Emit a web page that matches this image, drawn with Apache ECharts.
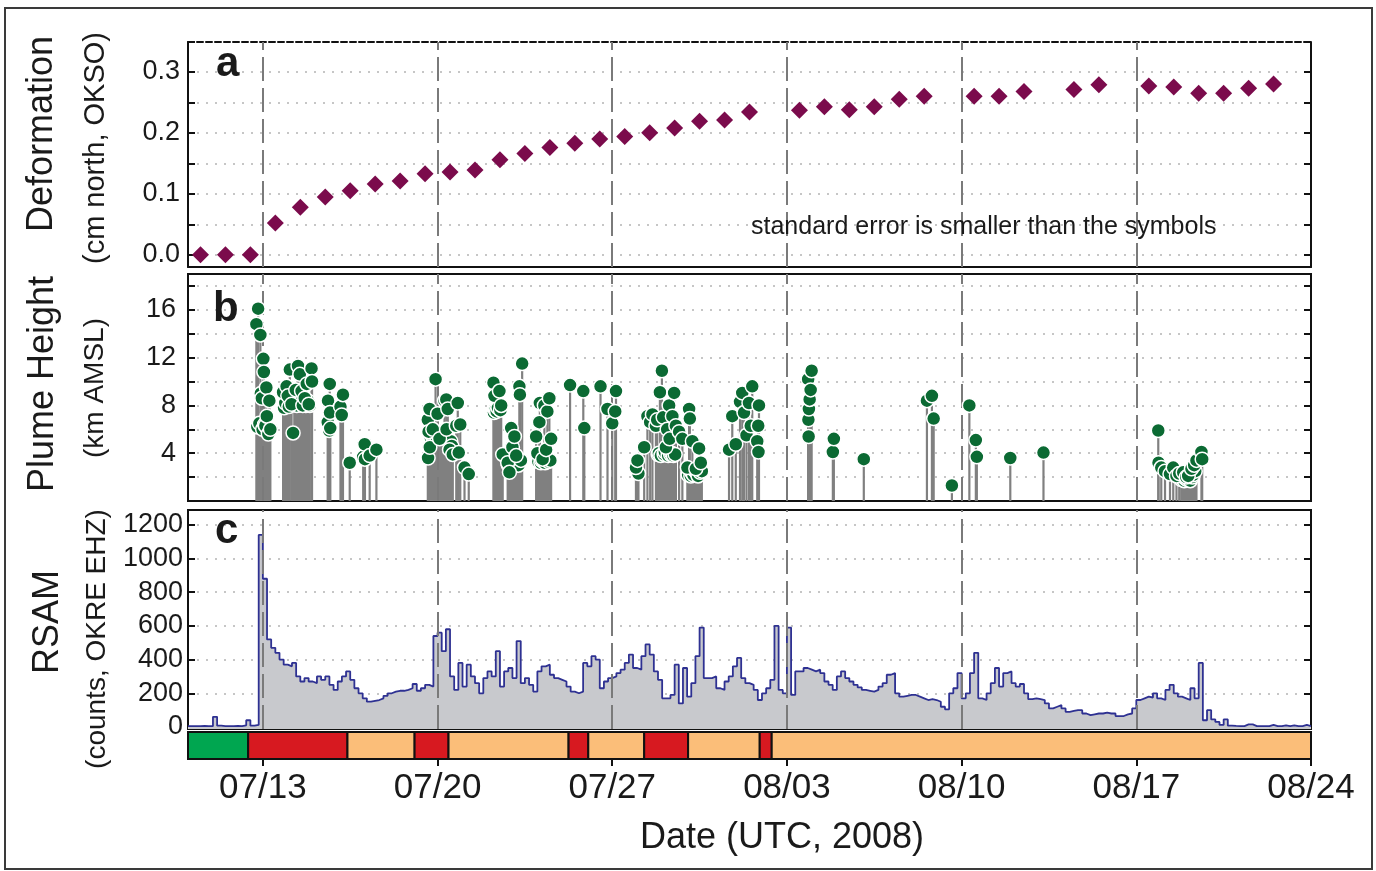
<!DOCTYPE html>
<html><head><meta charset="utf-8">
<script src="https://cdn.jsdelivr.net/npm/echarts@6.0.0/dist/echarts.min.js"></script>
<style>html,body{margin:0;padding:0;background:#fff}#c{width:1376px;height:871px}</style>
</head><body><div id="c"></div>
<script>
// ---------------- DATA ----------------
// Reference time: 2008-07-10 00:00 UTC; x positions are days after it.
const weekTickLabels = ['07/13','07/20','07/27','08/03','08/10','08/17','08/24'];

// (a) Deformation, cm north at OKSO (daily solutions, 12:00 UTC)
const deformDates = ['07/10','07/11','07/12','07/13','07/14','07/15','07/16','07/17','07/18','07/19',
  '07/20','07/21','07/22','07/23','07/24','07/25','07/26','07/27','07/28','07/29','07/30','07/31',
  '08/01','08/03','08/04','08/05','08/06','08/07','08/08','08/10','08/11','08/12','08/14','08/15',
  '08/17','08/18','08/19','08/20','08/21','08/22'];
const deformValues = [0,0,0,0.052,0.078,0.095,0.105,0.116,0.121,0.133,
  0.136,0.139,0.156,0.166,0.176,0.183,0.190,0.194,0.200,0.208,0.219,0.221,
  0.234,0.237,0.243,0.238,0.243,0.255,0.260,0.260,0.260,0.268,0.271,0.279,
  0.277,0.275,0.265,0.265,0.273,0.280];

// (b) Plume height, km AMSL (time in days after 07/10 00:00 UTC)
// lower, mostly hidden events inside the dense clusters
const plumeDayLow = [2.78,2.86,2.99,3.07,3.19,3.24,
  3.85,3.90,4.04,4.26,4.36,4.52,4.64,4.72,4.80,4.88,
  9.73,9.77,9.86,9.97,10.04,10.13,10.18,10.23,10.32,10.44,10.53,10.57,
  12.26,12.32,12.37,12.42,12.52,12.84,12.92,13.04,13.12,13.20,13.24,13.34,
  14.04,14.14,14.17,14.25,14.31,14.44,14.52,
  18.05,18.84,18.87,18.95,19.08,19.11,19.24,19.34,19.38,19.45,19.52,
  20.04,20.15,20.18,20.25,20.29,20.40,20.44,20.52,20.59,
  39.80,39.84,39.92,39.96,40.04,40.12,40.16,40.25,40.28,40.36];
const plumeKmLow = [6.2,6.5,6.0,6.4,6.0,5.8,
  7.8,8.2,7.9,8.3,8.0,8.3,8.2,8.0,8.4,8.0,
  5.3,5.5,5.4,5.3,5.6,5.4,5.3,5.5,5.3,5.2,5.0,4.6,
  7.4,7.6,7.5,7.8,7.6,3.0,3.1,3.3,3.0,3.2,3.0,3.4,
  3.3,3.2,3.4,3.3,3.2,3.3,3.4,
  2.3,3.9,4.0,3.8,3.9,4.1,3.8,3.9,4.0,3.8,3.9,
  2.2,2.1,2.4,2.2,2.6,2.3,2.1,2.4,2.5,
  1.8,1.9,1.7,1.9,1.8,1.9,1.7,2.0,2.2,2.5];
const plumeDay = [2.74,2.81,2.90,2.92,2.96,3.02,3.04,3.10,3.14,3.16,3.22,3.26,3.30,
  3.81,3.95,4.00,4.08,4.15,4.21,4.32,4.41,4.48,4.55,4.60,4.68,4.76,4.84,4.95,4.97,
  5.60,5.61,5.66,5.68,5.69,5.70,6.11,6.16,6.21,
  6.48,7.02,7.08,7.09,7.28,7.55,
  9.61,9.62,9.64,9.68,9.69,9.81,9.92,10.00,10.08,10.28,10.35,10.36,10.41,10.48,10.61,10.75,10.81,10.85,10.91,11.08,11.25,
  12.24,12.28,12.48,12.55,12.61,12.81,12.88,12.95,13.00,13.08,13.15,13.28,13.30,13.39,
  13.95,14.00,14.08,14.10,14.21,14.28,14.35,14.40,14.48,14.55,
  15.31,15.84,15.88,16.53,16.81,17.00,17.12,17.15,
  17.95,18.01,18.28,18.41,18.52,18.61,18.75,18.80,18.91,18.99,19.04,19.15,19.20,19.28,19.30,19.41,19.48,19.55,19.68,19.81,20.01,20.08,20.11,20.21,20.35,20.48,20.55,
  21.68,21.81,21.95,22.12,22.21,22.28,22.38,22.48,22.55,22.61,22.81,22.85,22.86,22.88,
  24.85,24.86,24.87,24.88,24.91,24.95,24.99,25.84,25.88,27.08,
  29.61,29.81,29.88,30.61,31.31,31.57,31.61,32.95,34.28,
  38.88,38.89,39.00,39.15,39.35,39.48,39.61,39.72,39.88,40.00,40.08,40.21,40.32,40.41,40.61,40.64];
const plumeKm = [14.8,16.1,13.9,9.0,8.6,11.9,10.8,6.3,9.5,7.1,5.6,8.4,6.0,
  9.1,9.6,8.8,11.0,8.1,5.7,9.3,11.3,10.6,9.2,8.0,8.6,9.8,8.1,11.1,10.0,
  6.6,8.4,5.9,9.8,7.4,6.1,7.9,7.2,8.9,
  3.2,3.7,4.75,3.5,3.8,4.3,
  6.8,3.6,5.8,7.7,4.5,6.0,10.2,7.3,5.2,8.4,8.5,6.0,7.7,4.3,3.9,6.3,8.2,4.05,6.4,2.8,2.25,
  9.9,8.8,9.2,8.0,3.9,3.2,2.4,6.1,4.5,5.4,3.8,9.6,8.9,11.5,
  5.4,4.0,6.6,8.2,3.5,8.0,4.3,7.5,8.6,5.2,
  9.7,9.2,6.1,9.6,7.7,6.5,7.5,9.2,
  2.8,3.4,4.5,7.1,6.6,7.25,6.3,6.8,9.1,10.9,7.0,4.5,6.0,8.0,5.2,7.1,9.05,6.3,5.8,5.2,2.8,7.7,6.9,5.0,2.7,4.4,3.2,
  4.3,7.1,4.75,8.3,9.05,7.4,5.5,8.2,6.3,9.6,5.0,6.3,4.1,8.0,
  10.2,6.8,5.4,7.7,8.5,9.3,10.9,4.1,5.2,3.5,
  8.4,8.8,6.9,1.3,8.0,5.1,3.7,3.6,4.05,
  5.9,3.2,2.8,2.5,2.25,2.8,2.1,2.3,2.4,2.0,2.1,2.7,3.0,3.4,4.1,3.5];

// (c) RSAM counts, OKRE EHZ, one value every 4 hours from 07/10 00:00 UTC (6 per day)
const rsamStepHours = 4;
const rsamValues = [
  5,5,5,6,5,5,          // 07/10
  60,8,5,5,5,6,         // 07/11
  5,10,40,8,12,1140,    // 07/12
  880,520,470,440,400,370, // 07/13
  360,380,300,270,290,270, // 07/14
  260,300,280,300,250,220, // 07/15
  270,300,330,280,230,200, // 07/16
  170,150,155,160,170,185, // 07/17
  200,210,215,215,220,230, // 07/18
  255,215,230,250,240,540, // 07/19
  560,450,580,300,220,380, // 07/20
  240,370,300,260,200,290, // 07/21
  330,300,450,240,330,350, // 07/22
  290,510,260,290,250,210, // 07/23
  330,360,370,310,290,280, // 07/24
  270,240,210,200,210,380, // 07/25
  360,420,400,230,270,290, // 07/26
  300,320,340,380,430,350, // 07/27
  340,420,490,430,330,280, // 07/28
  170,170,190,370,140,350, // 07/29
  180,260,420,590,290,290, // 07/30
  300,230,220,270,300,360, // 07/31
  410,290,260,250,220,160, // 08/01
  200,230,280,600,220,200, // 08/02
  590,190,330,330,350,340, // 08/03
  330,340,320,270,250,220, // 08/04
  300,330,290,270,250,235, // 08/05
  220,215,210,220,240,260, // 08/06
  310,320,200,180,185,190, // 08/07
  190,180,170,160,165,160, // 08/08
  150,120,105,200,230,320, // 08/09
  170,200,320,440,170,160, // 08/10
  200,260,350,240,320,330, // 08/11
  260,240,255,200,165,170, // 08/12
  165,160,140,110,120,130, // 08/13
  110,90,95,100,100,80,    // 08/14
  70,75,80,80,85,80,       // 08/15
  80,65,65,75,80,110,      // 08/16
  160,170,180,175,200,170, // 08/17
  160,220,250,200,180,170, // 08/18
  160,230,170,380,40,100,  // 08/19
  45,30,12,45,8,6,         // 08/20
  5,5,15,15,5,5,           // 08/21
  5,5,12,5,5,10,           // 08/22
  5,10,5,5,12,5,           // 08/23
  5                        // 08/24 00:00
];

// Aviation colour code (days after 07/10 00:00 UTC)
const alertBounds = [0, 2.41, 6.39, 9.08, 10.44, 15.25, 16.04, 18.28, 20.04, 22.91, 23.39, 45];
const alertLevels = ['GREEN','RED','ORANGE','RED','ORANGE','RED','ORANGE','RED','ORANGE','RED','ORANGE'];

// ---------------- HELPERS ----------------
const T0 = Date.UTC(2008, 6, 10);
function dayOf(md, hour) {
  const p = md.split('/').map(Number);
  return (Date.UTC(2008, p[0] - 1, p[1], hour || 0) - T0) / 864e5;
}
function fmtDay(d) {
  const dt = new Date(T0 + d * 864e5);
  const m = String(dt.getUTCMonth() + 1).padStart(2, '0');
  const dd = String(dt.getUTCDate()).padStart(2, '0');
  return m + '/' + dd;
}
const weekDays = weekTickLabels.map(s => dayOf(s));
const XMIN = 0, XMAX = 45;
const FONT = '"Liberation Sans", Arial, Helvetica, sans-serif';
const TXT = '#1a1a1a';
const alertColors = { GREEN: '#00a650', RED: '#d71920', ORANGE: '#fbbe79' };

const deformData = deformDates.map((d, i) => [dayOf(d, 12), deformValues[i]]);
const plumeData = plumeDayLow.map((d, i) => [d, plumeKmLow[i]])
  .concat(plumeDay.map((d, i) => [d, plumeKm[i]]));
const rsamData = rsamValues.map((v, i) => [i * rsamStepHours / 24, v]);
const alertData = alertLevels.map((lv, i) => [alertBounds[i], alertBounds[i + 1], lv]);

const gridDot = { show: true, showMinLine: false, showMaxLine: false,
  lineStyle: { color: '#b4b4b4', width: 1.5, type: [2, 7] } };
const blackLine = { show: true, onZero: false, lineStyle: { color: '#111', width: 2 } };
const inTick = { show: true, inside: true, length: 7, lineStyle: { color: '#111', width: 2 } };

function hiddenX(grid, extra) {
  return Object.assign({ type: 'value', gridIndex: grid, min: XMIN, max: XMAX,
    axisLine: { show: false, onZero: false }, axisTick: { show: false }, axisLabel: { show: false }, splitLine: { show: false } }, extra || {});
}
function yPair(grid, base, labelFmt, margin) {
  const left = Object.assign({ type: 'value', gridIndex: grid, position: 'left',
    axisLine: blackLine, axisTick: inTick, splitLine: gridDot,
    axisLabel: { show: true, formatter: labelFmt, fontFamily: FONT, fontSize: 27, color: TXT, margin: margin } }, base);
  const right = Object.assign({ type: 'value', gridIndex: grid, position: 'right',
    axisLine: blackLine, axisTick: inTick, splitLine: { show: false }, axisLabel: { show: false } }, base);
  return [left, right];
}
function weekLines(xi, yi, z) {
  return { type: 'line', xAxisIndex: xi, yAxisIndex: yi, data: [], z: z, silent: true,
    markLine: { silent: true, symbol: ['none', 'none'], label: { show: false },
      lineStyle: { color: '#7a7a7a', width: 2, type: [24, 7] },
      emphasis: { disabled: true },
      data: weekDays.slice(0, 6).map(d => ({ xAxis: d })) } };
}

const fmtA = v => { const r = Math.round(v * 10); return (Math.abs(v * 10 - r) < 1e-6 && r >= 0) ? (r / 10).toFixed(1) : ''; };
const fmtB = v => (v > 0 && v <= 16 && v % 4 === 0) ? String(v) : '';
const fmtC = v => (v >= 0 && v % 200 === 0) ? String(v) : '';

const [ya0, ya1] = yPair(0, { min: -0.02, max: 0.349, splitNumber: 7 }, fmtA, 8);
const [yb0, yb1] = yPair(1, { min: 0, max: 19, interval: 2 }, fmtB, 12);
const [yc0, yc1] = yPair(2, { min: -12, max: 1288, splitNumber: 7 }, fmtC, 5);

function vText(text, x, y, size) {
  return { type: 'text', x: x, y: y, rotation: Math.PI / 2, silent: true, z: 100,
    style: { text: text, font: size + 'px ' + FONT, fill: TXT, align: 'center', verticalAlign: 'middle',
      textAlign: 'center', textVerticalAlign: 'middle' } };
}
function hText(text, x, y, size, bold, align) {
  return { type: 'text', x: x, y: y, silent: true, z: 100,
    style: { text: text, font: (bold ? 'bold ' : '') + size + 'px ' + FONT, fill: TXT,
      align: align || 'left', verticalAlign: 'middle', textAlign: align || 'left', textVerticalAlign: 'middle' } };
}

const option = {
  animation: false,
  backgroundColor: '#fff',
  grid: [
    { left: 188, top: 42, width: 1123, height: 225, show: false },
    { left: 188, top: 274, width: 1123, height: 227, show: true, borderColor: '#111', borderWidth: 2, backgroundColor: 'transparent' },
    { left: 188, top: 510, width: 1123, height: 219, show: true, borderColor: '#111', borderWidth: 2, backgroundColor: 'transparent' },
    { left: 188, top: 732, width: 1123, height: 27, show: false }
  ],
  xAxis: [
    hiddenX(0, { position: 'bottom', axisLine: blackLine }),
    hiddenX(0, { position: 'top', axisLine: { show: true, onZero: false, lineStyle: { color: '#111', width: 2, type: [6, 3] } } }),
    hiddenX(1, { position: 'top', axisLine: blackLine }),
    hiddenX(2, { position: 'top', axisLine: blackLine }),
    hiddenX(3, {
      axisTick: { show: true, inside: false, length: 7, customValues: weekDays, lineStyle: { color: '#111', width: 2 } },
      axisLabel: { show: true, customValues: weekDays, formatter: v => fmtDay(v), fontFamily: FONT, fontSize: 35, color: TXT, margin: 12 }
    })
  ],
  yAxis: [ya0, ya1, yb0, yb1, yc0, yc1,
    { type: 'value', gridIndex: 3, min: 0, max: 1, show: false }],
  graphic: [
    { type: 'rect', shape: { x: 5, y: 8, width: 1367, height: 861 }, style: { fill: 'none', stroke: '#3a3a3a', lineWidth: 2 }, silent: true, z: 100 },
    hText('a', 216, 64, 42, true),
    hText('b', 213, 309, 42, true),
    hText('c', 215, 531, 42, true),
    vText('Deformation', 42, 134, 36),
    vText('(cm north, OKSO)', 96, 148, 29),
    vText('Plume Height', 43, 384, 36),
    vText('(km AMSL)', 95, 388, 28),
    vText('RSAM', 48, 622, 36),
    vText('(counts, OKRE EHZ)', 97, 639, 28),
    hText('standard error is smaller than the symbols', 751, 227, 25, false),
    hText('Date (UTC, 2008)', 782, 838, 36, false, 'center')
  ],
  series: [
    weekLines(0, 0, 1),
    { type: 'scatter', name: 'Deformation', xAxisIndex: 0, yAxisIndex: 0, data: deformData, z: 5,
      symbol: 'diamond', symbolSize: 17, itemStyle: { color: '#7b0b4c', opacity: 1 } },
    weekLines(2, 2, 1),
    { type: 'custom', name: 'Plume stems', xAxisIndex: 2, yAxisIndex: 2, data: plumeData, z: 3,
      encode: { x: 0, y: 1 },
      renderItem: (params, api) => {
        const p0 = api.coord([api.value(0), 0]);
        const p1 = api.coord([api.value(0), api.value(1)]);
        return { type: 'line', shape: { x1: p0[0], y1: p0[1], x2: p1[0], y2: p1[1] },
          style: { stroke: '#808080', lineWidth: 2.2 } };
      } },
    { type: 'scatter', name: 'Plume height', xAxisIndex: 2, yAxisIndex: 2, data: plumeData, z: 5,
      symbol: 'circle', symbolSize: 14, itemStyle: { color: '#0b6a33', borderColor: '#ffffff', borderWidth: 1.5, opacity: 1 } },
    weekLines(3, 4, 1),
    { type: 'line', name: 'RSAM', xAxisIndex: 3, yAxisIndex: 4, data: rsamData, z: 4,
      step: 'end', showSymbol: false, symbol: 'none',
      lineStyle: { color: '#2e3192', width: 1.8 },
      areaStyle: { color: '#c8c9cd', opacity: 1, origin: 'start' } },
    { type: 'custom', name: 'Alert level', xAxisIndex: 4, yAxisIndex: 6, data: alertData, z: 5,
      encode: { x: [0, 1] },
      renderItem: (params, api) => {
        const a = api.coord([api.value(0), 1]);
        const b = api.coord([api.value(1), 0]);
        return { type: 'rect', shape: { x: a[0], y: a[1], width: b[0] - a[0], height: b[1] - a[1] },
          style: { fill: alertColors[alertData[params.dataIndex][2]], stroke: '#111', lineWidth: 2 } };
      } }
  ]
};

const chart = echarts.init(document.getElementById('c'), null, { renderer: 'canvas' });
chart.setOption(option);
</script></body></html>
